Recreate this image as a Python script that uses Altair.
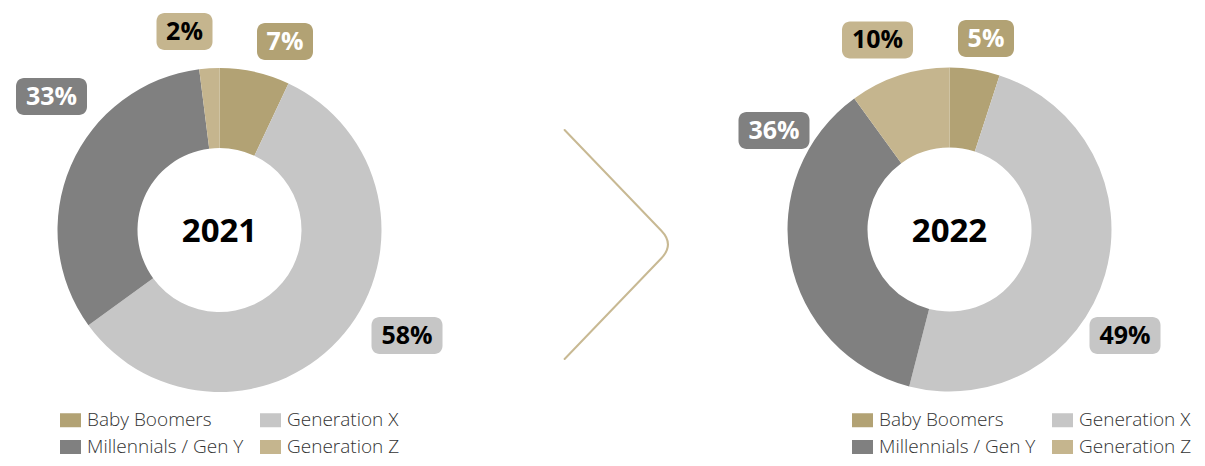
import altair as alt
import pandas as pd

# ---------------- data ----------------
generations = ["Baby Boomers", "Generation X", "Millennials / Gen Y", "Generation Z"]
gen_colors = ["#B2A274", "#C6C6C6", "#808080", "#C5B58E"]
label_text_colors = ["#FFFFFF", "#000000", "#FFFFFF", "#000000"]
years = ["2021", "2022"]
share_2021 = [7, 58, 33, 2]
share_2022 = [5, 49, 36, 10]
shares = {"2021": share_2021, "2022": share_2022}

# ---------------- layout (pixels, chart coordinates) ----------------
W, H = 1189, 450
M = 8
centers = {"2021": (219.5 - M, 230 - M), "2022": (949.5 - M, 229.5 - M)}
R_OUT, R_IN = 162, 82
label_offsets = {
    "2021": [(65.5, -188.5), (187.5, 105.5), (-168, -133.5), (-35, -198.5)],
    "2022": [(36.5, -191), (175.5, 106), (-175.5, -99), (-72, -189.5)],
}
legend_pos = {"2021": (61 - M, 402.5), "2022": (853 - M, 402.5)}
BOX_H = 37
FONT = "Open Sans"

layers = []
for yr in years:
    cx, cy = centers[yr]
    df = pd.DataFrame({
        "generation": generations,
        "value": shares[yr],
        "order": list(range(len(generations))),
    })
    lx, ly = legend_pos[yr]
    arc = alt.Chart(df).mark_arc(outerRadius=R_OUT, innerRadius=R_IN).encode(
        theta=alt.Theta("value:Q", stack=True),
        order=alt.Order("order:Q"),
        color=alt.Color(
            "generation:N",
            scale=alt.Scale(domain=generations, range=gen_colors),
            sort=generations,
            legend=alt.Legend(
                title=None, orient="none", legendX=lx, legendY=ly,
                columns=2, direction="horizontal",
                symbolType="M-1.5,-1H1.5V1H-1.5Z", symbolSize=196,
                symbolStrokeWidth=0, symbolOpacity=1,
                labelFont=FONT, labelFontSize=19, labelFontWeight=300,
                labelColor="#333333", labelOffset=7, columnPadding=16,
                rowPadding=7, padding=0, labelLimit=300,
            ),
        ),
        x=alt.value(cx),
        y=alt.value(cy),
    )
    layers.append(arc)

    center_df = pd.DataFrame({"year": [yr]})
    center_txt = alt.Chart(center_df).mark_text(
        font=FONT, fontSize=33, fontWeight="bold", color="#000000",
        baseline="middle", align="center",
    ).encode(text="year:N", x=alt.value(cx), y=alt.value(cy + 2))
    layers.append(center_txt)

    # labels
    rows = []
    for i, g in enumerate(generations):
        dx, dy = label_offsets[yr][i]
        txt = f"{shares[yr][i]}%"
        bw = 56 if len(txt) == 2 else 71
        px, py = cx + dx, cy + dy
        rows.append({
            "generation": g, "label": txt,
            "lx": px, "ly": py,
            "bx": px - bw / 2, "bx2": px + bw / 2,
            "by": py - BOX_H / 2, "by2": py + BOX_H / 2,
            "fill": gen_colors[i], "tcol": label_text_colors[i],
        })
    ldf = pd.DataFrame(rows)
    boxes = alt.Chart(ldf).mark_rect(cornerRadius=8).encode(
        x=alt.X("bx:Q", scale=None, axis=None),
        x2="bx2:Q",
        y=alt.Y("by:Q", scale=None, axis=None),
        y2="by2:Q",
        fill=alt.Fill("fill:N", scale=None, legend=None),
    )
    texts = alt.Chart(ldf).mark_text(
        font=FONT, fontSize=25, fontWeight="bold", baseline="middle", align="center",
    ).encode(
        x=alt.X("lx:Q", scale=None, axis=None),
        y=alt.Y("ly:Q", scale=None, axis=None),
        text="label:N",
        color=alt.Color("tcol:N", scale=None, legend=None),
    )
    layers += [boxes, texts]

# chevron arrow between the two donuts (decorative glyph)
chev_df = pd.DataFrame({"k": ["arrow"]})
chevron = alt.Chart(chev_df).mark_point(
    shape="M-0.44,-1L0.405,-0.12Q0.52,0 0.405,0.12L-0.44,1",
    size=52441, filled=False, stroke="#C8B993", strokeWidth=2, opacity=1,
    strokeCap="round",
).encode(x=alt.value(615 - M), y=alt.value(244.5 - M))
layers.append(chevron)

chart = alt.layer(*layers).resolve_scale(
    color="independent", theta="independent", fill="independent"
).properties(
    width=W, height=H, autosize=alt.AutoSizeParams(type="none"), padding=0,
).configure_view(stroke=None)

chart.save("out.html", embed_options={"renderer": "svg", "actions": False})
